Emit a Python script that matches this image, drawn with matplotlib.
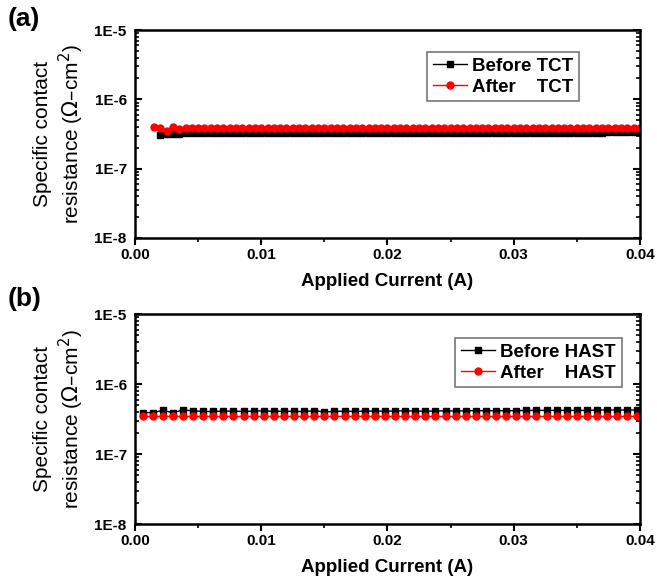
import numpy as np
import matplotlib
matplotlib.use("Agg")
import matplotlib.pyplot as plt
from matplotlib.ticker import LogLocator, FixedLocator, NullFormatter

plt.rcParams['font.family'] = ['Liberation Sans', 'DejaVu Sans']

# ---- data ----
# (a) thermal cycling test, dense current sweep
x_before_tct = np.arange(0.0020, 0.04001, 0.0005)
y_before_tct = [
    3.10e-7, 3.15e-7, 3.20e-7, 3.20e-7, 3.22e-7, 3.23e-7, 3.23e-7, 3.24e-7, 3.24e-7, 3.25e-7,
    3.25e-7, 3.25e-7, 3.25e-7, 3.25e-7, 3.26e-7, 3.26e-7, 3.26e-7, 3.26e-7, 3.26e-7, 3.26e-7,
    3.27e-7, 3.27e-7, 3.27e-7, 3.27e-7, 3.27e-7, 3.27e-7, 3.27e-7, 3.28e-7, 3.28e-7, 3.28e-7,
    3.28e-7, 3.28e-7, 3.28e-7, 3.28e-7, 3.28e-7, 3.29e-7, 3.29e-7, 3.29e-7, 3.29e-7, 3.29e-7,
    3.29e-7, 3.29e-7, 3.29e-7, 3.30e-7, 3.30e-7, 3.30e-7, 3.30e-7, 3.30e-7, 3.30e-7, 3.30e-7,
    3.30e-7, 3.30e-7, 3.31e-7, 3.31e-7, 3.31e-7, 3.31e-7, 3.31e-7, 3.31e-7, 3.31e-7, 3.31e-7,
    3.31e-7, 3.32e-7, 3.32e-7, 3.32e-7, 3.32e-7, 3.32e-7, 3.32e-7, 3.32e-7, 3.32e-7, 3.32e-7,
    3.32e-7, 3.33e-7, 3.33e-7, 3.33e-7, 3.33e-7, 3.33e-7, 3.33e-7,
]
x_after_tct = np.arange(0.0015, 0.04001, 0.0005)
y_after_tct = [
    4.05e-7, 3.90e-7, 3.55e-7, 3.95e-7, 3.75e-7, 3.85e-7, 3.80e-7, 3.82e-7, 3.84e-7, 3.85e-7,
    3.85e-7, 3.85e-7, 3.86e-7, 3.86e-7, 3.86e-7, 3.86e-7, 3.86e-7, 3.86e-7, 3.87e-7, 3.87e-7,
    3.87e-7, 3.87e-7, 3.87e-7, 3.87e-7, 3.87e-7, 3.87e-7, 3.87e-7, 3.87e-7, 3.87e-7, 3.87e-7,
    3.87e-7, 3.87e-7, 3.87e-7, 3.87e-7, 3.87e-7, 3.87e-7, 3.87e-7, 3.87e-7, 3.87e-7, 3.87e-7,
    3.87e-7, 3.87e-7, 3.87e-7, 3.87e-7, 3.87e-7, 3.87e-7, 3.87e-7, 3.87e-7, 3.87e-7, 3.87e-7,
    3.87e-7, 3.87e-7, 3.87e-7, 3.87e-7, 3.87e-7, 3.87e-7, 3.87e-7, 3.87e-7, 3.87e-7, 3.87e-7,
    3.87e-7, 3.87e-7, 3.87e-7, 3.87e-7, 3.87e-7, 3.87e-7, 3.87e-7, 3.87e-7, 3.87e-7, 3.87e-7,
    3.87e-7, 3.87e-7, 3.87e-7, 3.87e-7, 3.87e-7, 3.87e-7, 3.87e-7, 3.87e-7,
]

# (b) humidity test, coarser sweep
x_hast = np.arange(0.0006, 0.04001, 0.0008)
y_before_hast = [
    3.90e-7, 3.90e-7, 4.20e-7, 3.90e-7, 4.25e-7, 4.15e-7, 4.05e-7, 4.05e-7, 4.10e-7, 4.10e-7,
    4.05e-7, 4.10e-7, 4.15e-7, 4.05e-7, 4.10e-7, 4.05e-7, 4.05e-7, 4.15e-7, 4.00e-7, 4.05e-7,
    4.10e-7, 4.05e-7, 4.10e-7, 4.10e-7, 4.10e-7, 4.10e-7, 4.15e-7, 4.10e-7, 4.10e-7, 4.10e-7,
    4.15e-7, 4.10e-7, 4.15e-7, 4.15e-7, 4.15e-7, 4.15e-7, 4.15e-7, 4.15e-7, 4.20e-7, 4.20e-7,
    4.20e-7, 4.20e-7, 4.20e-7, 4.20e-7, 4.20e-7, 4.25e-7, 4.25e-7, 4.25e-7, 4.25e-7, 4.25e-7,
]
y_after_hast = [
    3.45e-7, 3.45e-7, 3.45e-7, 3.45e-7, 3.45e-7, 3.45e-7, 3.45e-7, 3.45e-7, 3.45e-7, 3.45e-7,
    3.45e-7, 3.45e-7, 3.45e-7, 3.45e-7, 3.45e-7, 3.45e-7, 3.45e-7, 3.45e-7, 3.45e-7, 3.45e-7,
    3.45e-7, 3.45e-7, 3.45e-7, 3.45e-7, 3.45e-7, 3.45e-7, 3.45e-7, 3.45e-7, 3.45e-7, 3.45e-7,
    3.45e-7, 3.45e-7, 3.45e-7, 3.45e-7, 3.45e-7, 3.45e-7, 3.45e-7, 3.45e-7, 3.45e-7, 3.45e-7,
    3.45e-7, 3.45e-7, 3.45e-7, 3.45e-7, 3.45e-7, 3.45e-7, 3.45e-7, 3.45e-7, 3.45e-7, 3.45e-7,
]

x_ticks = [0.00, 0.01, 0.02, 0.03, 0.04]
x_ticklabels = ['0.00', '0.01', '0.02', '0.03', '0.04']
y_ticks = [1e-8, 1e-7, 1e-6, 1e-5]
y_ticklabels = ['1E-8', '1E-7', '1E-6', '1E-5']


def style_axes(ax):
    ax.set_yscale('log')
    ax.set_xlim(0.0, 0.04)
    ax.set_ylim(1e-8, 1e-5)
    ax.set_xticks(x_ticks)
    ax.set_xticklabels(x_ticklabels, fontsize=11, fontweight='bold')
    ax.xaxis.set_minor_locator(FixedLocator([0.005, 0.015, 0.025, 0.035]))
    ax.set_yticks(y_ticks)
    ax.set_yticklabels(y_ticklabels, fontsize=11, fontweight='bold')
    ax.yaxis.set_minor_locator(LogLocator(base=10, subs=np.arange(2, 10)))
    ax.yaxis.set_minor_formatter(NullFormatter())
    ax.tick_params(axis='x', which='major', direction='out', length=5, width=1.5, pad=2)
    ax.tick_params(axis='x', which='minor', direction='out', length=3, width=1.2)
    ax.tick_params(axis='y', which='major', direction='in', length=5, width=1.5,
                   right=True, pad=6)
    ax.tick_params(axis='y', which='minor', direction='in', length=3, width=1.2, right=True)
    for sp in ax.spines.values():
        sp.set_linewidth(1.8)
    ax.set_xlabel('Applied Current (A)', fontsize=13.5, fontweight='bold', labelpad=8)
    ax.set_ylabel('Specific contact\nresistance ($\\Omega$–cm$^2$)', fontsize=15, labelpad=6)


fig = plt.figure(figsize=(6.57, 5.83), dpi=100)
ax_a = fig.add_axes([0.2055, 0.5918, 0.7685, 0.3567])
ax_b = fig.add_axes([0.2055, 0.1012, 0.7685, 0.3602])

# (a)
ax_a.plot(x_before_tct, y_before_tct, color='black', marker='s', markersize=4, lw=1,
          label='Before TCT')
ax_a.plot(x_after_tct, y_after_tct, color='red', marker='o', markersize=5, lw=1,
          label='After    TCT')
style_axes(ax_a)
leg = ax_a.legend(loc='upper right', bbox_to_anchor=(0.88, 0.894),
                  prop={'weight': 'bold', 'size': 13.5}, fancybox=False,
                  edgecolor='#555555', handlelength=1.8, handletextpad=0.3,
                  borderpad=0.3, labelspacing=0.2, borderaxespad=0)
leg.get_frame().set_linewidth(1.2)

# (b)
ax_b.plot(x_hast, y_before_hast, color='black', marker='s', markersize=5, lw=1,
          label='Before HAST')
ax_b.plot(x_hast, y_after_hast, color='red', marker='o', markersize=5, lw=1,
          label='After    HAST')
style_axes(ax_b)
leg = ax_b.legend(loc='upper right', bbox_to_anchor=(0.964, 0.886),
                  prop={'weight': 'bold', 'size': 13.5}, fancybox=False,
                  edgecolor='#555555', handlelength=1.8, handletextpad=0.3,
                  borderpad=0.3, labelspacing=0.2, borderaxespad=0)
leg.get_frame().set_linewidth(1.2)

fig.text(0.012, 0.968, '(a)', fontsize=19, fontweight='bold', va='center', ha='left')
fig.text(0.012, 0.487, '(b)', fontsize=19, fontweight='bold', va='center', ha='left')

fig.savefig('out.png', dpi=100)
